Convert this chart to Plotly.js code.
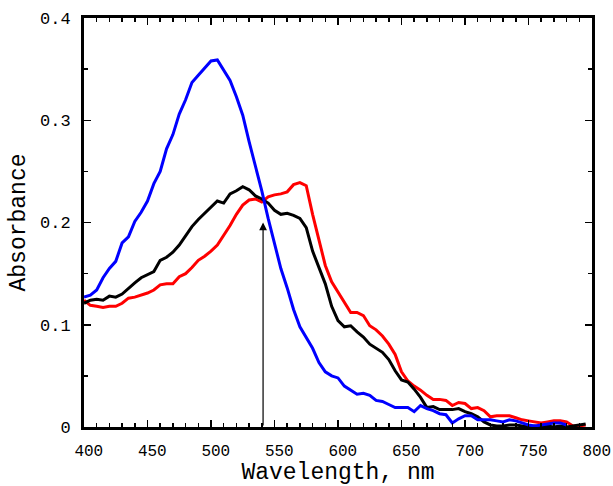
<!DOCTYPE html>
<html>
<head>
<meta charset="utf-8">
<script src="https://cdn.plot.ly/plotly-3.0.1.min.js"></script>
<style>html,body{margin:0;padding:0;background:#fff;}#chart{width:613px;height:486px;}</style>
</head>
<body>
<div id="chart"></div>
<script>
var blueWl = [400,405,410,415,420,425,430,435,440,445,450,455,460,465,470,475,480,485,490,495,500,505,510,515,520,525,530,535,540,545,550,555,560,565,570,575,580,585,590,595,600,605,610,615,620,625,630,635,640,645,650,655,660,665,670,675,680,685,690,695,700,705,710,715,720,725,730,735,740,745,750,755,760,765,770,775,780];
var blueAbs = [0.127,0.129,0.134,0.146,0.155,0.162,0.180,0.186,0.201,0.210,0.221,0.238,0.250,0.272,0.286,0.306,0.320,0.337,0.344,0.351,0.358,0.359,0.349,0.339,0.323,0.305,0.279,0.255,0.231,0.204,0.178,0.155,0.136,0.115,0.098,0.087,0.077,0.063,0.054,0.050,0.048,0.040,0.036,0.032,0.033,0.031,0.026,0.025,0.022,0.019,0.019,0.019,0.015,0.021,0.018,0.016,0.013,0.012,0.004,0.008,0.011,0.011,0.007,0.007,0.007,0.006,0.005,0.007,0.006,0.004,0.002,0.001,0.002,0.003,0.004,0.004,0.002];

var blackWl = [400,405,410,415,420,425,430,435,440,445,450,455,460,465,470,475,480,485,490,495,500,505,510,515,520,525,530,535,540,545,550,555,560,565,570,575,580,585,590,595,600,605,610,615,620,625,630,635,640,645,650,655,660,665,670,675,680,685,690,695,700,705,710,715,720,725,730,735,740,745,750,755,760,765,770,775,780,785,790,795];
var blackAbs = [0.121,0.124,0.125,0.124,0.128,0.127,0.130,0.136,0.141,0.146,0.149,0.152,0.163,0.166,0.171,0.178,0.187,0.196,0.203,0.209,0.215,0.221,0.219,0.228,0.231,0.235,0.232,0.226,0.223,0.219,0.212,0.208,0.209,0.207,0.204,0.195,0.172,0.155,0.140,0.118,0.104,0.098,0.099,0.093,0.088,0.081,0.077,0.073,0.066,0.055,0.046,0.044,0.037,0.029,0.019,0.020,0.017,0.017,0.017,0.018,0.015,0.013,0.010,0.005,0.002,0.001,0.001,0.002,0.002,0.001,0.000,0.001,0.000,0.001,0.000,0.001,0.000,0.001,0.002,0.003];

var redWl = [400,405,410,415,420,425,430,435,440,445,450,455,460,465,470,475,480,485,490,495,500,505,510,515,520,525,530,535,540,545,550,555,560,565,570,575,580,585,590,595,600,605,610,615,620,625,630,635,640,645,650,655,660,665,670,675,680,685,690,695,700,705,710,715,720,725,730,735,740,745,750,755,760,765,770,775,780,785,790,795];
var redAbs = [0.124,0.119,0.118,0.117,0.118,0.118,0.121,0.126,0.127,0.129,0.131,0.134,0.139,0.140,0.140,0.147,0.150,0.156,0.163,0.167,0.172,0.178,0.187,0.197,0.208,0.217,0.222,0.223,0.220,0.225,0.227,0.228,0.230,0.237,0.239,0.236,0.208,0.182,0.158,0.142,0.132,0.121,0.112,0.112,0.109,0.099,0.095,0.089,0.081,0.071,0.054,0.045,0.040,0.036,0.031,0.027,0.027,0.026,0.021,0.024,0.023,0.018,0.019,0.016,0.010,0.011,0.011,0.011,0.009,0.007,0.006,0.005,0.004,0.005,0.006,0.006,0.005,0.001,0.001,0.002];

var xTickVals = [400,450,500,550,600,650,700,750,800];
var xTickText = [' 400',' 450',' 500',' 550',' 600',' 650',' 700',' 750',' 800'];
var yTickVals = [0,0.1,0.2,0.3,0.4];
var yTickText = ['0','0.1','0.2','0.3','0.4'];
var arrowWl = 541;
var arrowTop = 0.2;

var mono = 'Liberation Mono, Courier New, monospace';

var traces = [
  {x: redWl, y: redAbs, mode: 'lines', line: {color: '#ff0000', width: 3}, hoverinfo: 'skip'},
  {x: blackWl, y: blackAbs, mode: 'lines', line: {color: '#000000', width: 3}, hoverinfo: 'skip'},
  {x: blueWl, y: blueAbs, mode: 'lines', line: {color: '#0000ff', width: 3}, hoverinfo: 'skip'}
];

var layout = {
  width: 613, height: 486,
  margin: {l: 84, r: 21, t: 18, b: 59},
  paper_bgcolor: '#fff', plot_bgcolor: '#fff',
  showlegend: false,
  font: {family: mono, color: '#000'},
  xaxis: {
    range: [400, 800], tickvals: xTickVals, ticktext: xTickText,
    showgrid: false, zeroline: false, showline: true, linewidth: 3, linecolor: '#000',
    mirror: 'allticks', ticks: 'inside', ticklen: 7, tickwidth: 1.5, tickcolor: '#000',
    minor: {dtick: 10, tick0: 400, ticks: 'inside', ticklen: 4, tickwidth: 1.5, tickcolor: '#000', showgrid: false},
    tickfont: {family: mono, size: 16, color: '#000'},
    ticklabelstandoff: 7,
    title: {text: 'Wavelength, nm', font: {family: mono, size: 23, color: '#000'}, standoff: 9}
  },
  yaxis: {
    range: [0, 0.4], tickvals: yTickVals, ticktext: yTickText,
    showgrid: false, zeroline: false, showline: true, linewidth: 3, linecolor: '#000',
    mirror: 'allticks', ticks: 'inside', ticklen: 7, tickwidth: 1.5, tickcolor: '#000',
    minor: {dtick: 0.05, tick0: 0, ticks: 'inside', ticklen: 4, tickwidth: 1.5, tickcolor: '#000', showgrid: false},
    tickfont: {family: mono, size: 17, color: '#000'},
    ticklabelstandoff: 7,
    title: {text: 'Absorbance', font: {family: mono, size: 23, color: '#000'}, standoff: 8}
  },
  annotations: [{
    x: arrowWl, y: arrowTop, ax: arrowWl, ay: 0, xref: 'x', yref: 'y', axref: 'x', ayref: 'y',
    text: '', showarrow: true, arrowhead: 2, arrowsize: 1.3, arrowwidth: 1.2, arrowcolor: '#000'
  }]
};

Plotly.newPlot('chart', traces, layout, {displayModeBar: false, staticPlot: true});
</script>
</body>
</html>
